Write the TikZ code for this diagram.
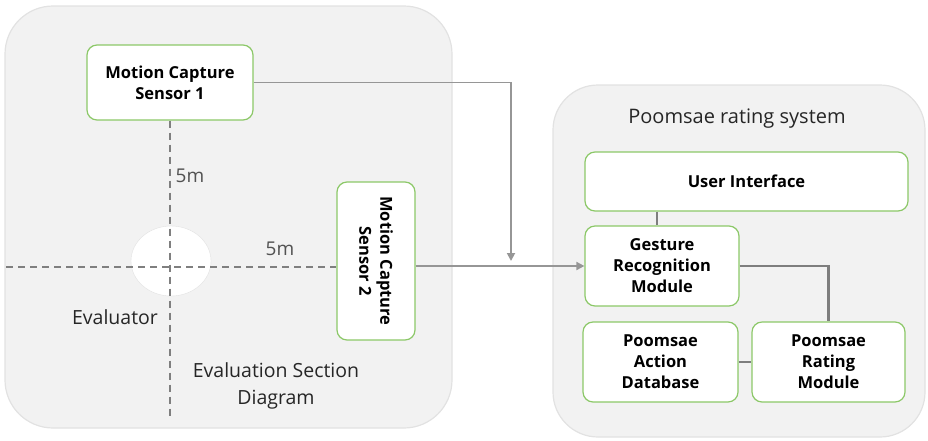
\documentclass[tikz,border=0pt]{standalone}
\usepackage{fontspec}
\setmainfont{Open Sans}
\usetikzlibrary{arrows.meta,shapes.geometric,calc}
\definecolor{panelfill}{HTML}{F2F2F2}
\definecolor{paneledge}{HTML}{E2E2E2}
\definecolor{boxedge}{HTML}{8CC868}
\definecolor{linegray}{HTML}{7E7E7E}
\definecolor{arrgray}{HTML}{969696}
\definecolor{dashgray}{HTML}{7F7F7F}
\begin{document}
\begin{tikzpicture}[x=1pt,y=-1pt,
  panel/.style={draw=paneledge, line width=1.2pt, fill=panelfill, rounded corners=48pt, inner sep=0pt},
  modbox/.style={draw=boxedge, line width=1.2pt, fill=white, rounded corners=10pt, align=center, inner sep=0pt,
     font=\fontsize{16.5}{21}\selectfont\bfseries},
  conn/.style={draw=linegray, line width=2.4pt},
  arr/.style={draw=arrgray, line width=1.8pt, -{Triangle[length=8pt,width=8pt]}},
  dashline/.style={draw=dashgray, line width=1.5pt, dash pattern=on 7pt off 5pt},
  lbl/.style={inner sep=0pt, font=\fontsize{19.5}{27}\selectfont, text=black!85, align=center}
]
\useasboundingbox (0,0) rectangle (928,440);

% panels
\node[panel, minimum width=447pt, minimum height=422pt] (leftp) at (228.5,217) {};
\node[panel, minimum width=372pt, minimum height=352pt, rounded corners=45pt] (rightp) at (739,261) {};

% evaluator circle
\node[ellipse, draw=paneledge, fill=white, minimum width=80pt, minimum height=70pt, inner sep=0pt] (ev) at (171,261) {};

% boxes
\node[modbox, minimum width=166pt, minimum height=75pt] (s1) at (170,82.5) {Motion Capture\\Sensor 1};
\node[modbox, minimum width=158pt, minimum height=78pt, rotate=-90] (s2) at (376,261) {Motion Capture\\Sensor 2};

\node[lbl, font=\fontsize{20}{24}\selectfont] (title) at (737,119) {Poomsae rating system};
\node[modbox, minimum width=323pt, minimum height=59pt] (ui) at (746.5,181.5) {User Interface};
\node[modbox, minimum width=154pt, minimum height=80pt] (gr) at (662,266) {Gesture\\Recognition\\Module};
\node[modbox, minimum width=155pt, minimum height=80pt] (db) at (660.5,362) {Poomsae\\Action\\Database};
\node[modbox, minimum width=153pt, minimum height=80pt] (rm) at (828.5,362) {Poomsae\\Rating\\Module};

% dashed axes
\coordinate (vbot) at (170,416);
\coordinate (hleft) at (6,267);
\draw[dashline] (s1.south) -- (vbot);
\draw[dashline] (hleft) -- (hleft -| s2.south);

% labels
\node[lbl, text=black!68, font=\fontsize{19}{22}\selectfont] (d1) at (190,176) {5m};
\node[lbl, text=black!68, font=\fontsize{19}{22}\selectfont] (d2) at (280,249) {5m};
\node[lbl] (evl) at (115,317) {Evaluator};
\node[lbl] (esd) at (276,386) {Evaluation Section\\Diagram};

% connectors
\coordinate (join) at (511,261);
\draw[arr] (s1.east) -| (join);
\draw[arr] (gr.west -| s2.north) -- (gr.west);
\draw[conn] (ui.south -| 657,0) -- (gr.north -| 657,0);
\draw[conn] (gr.east) -| (rm.north);
\draw[conn] (db.east) -- (rm.west);
\end{tikzpicture}
\end{document}
